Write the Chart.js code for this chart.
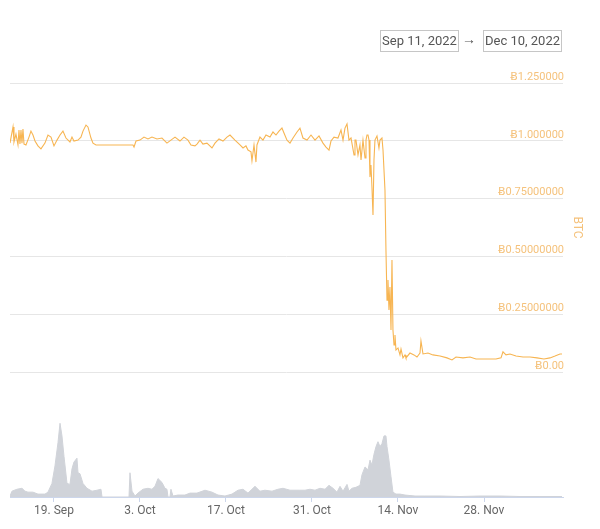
<!DOCTYPE html>
<html>
<head>
<meta charset="utf-8">
<script src="https://cdn.jsdelivr.net/npm/chart.js@4/dist/chart.umd.min.js"></script>
<style>
  body { margin: 0; background: #fff; font-family: Roboto, sans-serif; }
  #wrap { position: relative; width: 600px; height: 529px; }
  #price-chart { position: absolute; left: 0; top: 0; }
  #volume-chart { position: absolute; left: 0; top: 390px; }
  .range-box { position: absolute; top: 30px; height: 20px; width: 77px; border: 1px solid #c6c6c6;
    font-size: 13px; line-height: 20px; color: #555; text-align: center; white-space: nowrap; overflow: hidden; }
  #range-arrow { position: absolute; top: 31px; left: 462px; font-size: 14px; color: #555; }
</style>
</head>
<body>
<div id="wrap">
  <canvas id="price-chart" width="600" height="390"></canvas>
  <canvas id="volume-chart" width="600" height="139"></canvas>
  <div class="range-box" id="range-from" style="left:380px"></div>
  <div id="range-arrow">→</div>
  <div class="range-box" id="range-to" style="left:483px"></div>
</div>
<script>
// x values are days counted from Sep 11, 2022 00:00
const rangeLabels = ['Sep 11, 2022', 'Dec 10, 2022'];
const xMin = 0.84;
const xMax = 90.86;
const xTickDays = [8, 22, 36, 50, 64, 78];
const xTickLabels = ['19. Sep', '3. Oct', '17. Oct', '31. Oct', '14. Nov', '28. Nov'];

const yTickValues = [0, 0.25, 0.5, 0.75, 1, 1.25];
const yTickLabels = ['Ƀ0.00', 'Ƀ0.25000000', 'Ƀ0.50000000', 'Ƀ0.75000000', 'Ƀ1.000000', 'Ƀ1.250000'];

const priceDays = [
  0.84, 1.33, 1.49, 1.81, 2.14, 2.30, 2.46, 2.63, 2.79, 2.95, 3.12, 3.44, 3.93, 4.25, 4.58, 4.91,
  5.39, 5.88, 6.53, 7.02, 7.51, 8.00, 8.49, 8.98, 9.46, 9.95, 10.60, 10.93, 11.25, 11.91, 12.39,
  12.72, 13.21, 13.53, 14.02, 14.35, 14.84, 15.49, 20.86, 21.03, 21.35, 22.00, 22.65, 23.30, 23.95,
  24.77, 25.58, 26.39, 27.04, 27.70, 28.51, 29.16, 29.81, 30.30, 30.95,
  31.28, 31.77, 32.25, 32.90, 33.72, 34.21, 34.86, 35.51, 36.16, 36.65, 37.46, 38.28, 38.77, 39.25,
  39.58, 40.07, 40.23, 40.56, 40.88, 41.04, 41.53, 42.02, 42.51, 43.16, 43.65, 44.14, 44.63, 45.11,
  45.44, 45.93, 46.42, 46.91, 47.56, 48.04, 48.53, 49.19, 49.84, 50.49, 51.14, 51.79, 52.28, 52.77,
  53.09, 53.58, 54.23, 54.72, 55.05, 55.37, 55.70, 56.02, 56.35, 56.84, 57.00,
  57.16, 57.49, 57.81, 57.98, 58.30, 58.63, 58.79, 58.95, 59.12, 59.28, 59.44, 59.60, 59.76, 59.93,
  60.09, 60.25, 60.58, 60.90, 61.07, 61.39, 61.56, 61.88, 62.04, 62.21, 62.37, 62.53, 62.69, 62.86,
  63.02, 63.18, 63.35, 63.51, 63.67, 64.00, 64.32, 64.49, 64.81, 65.14,
  65.30, 65.95, 66.60, 67.09, 67.58, 67.74, 68.07, 68.88, 69.69, 70.84, 71.97, 72.79, 73.44, 74.58,
  75.72, 76.70, 77.83, 78.97, 79.95, 80.77, 81.09, 81.58, 82.23, 83.21, 84.35, 85.49, 86.63, 87.76,
  88.74, 89.56, 90.37, 90.70
];
const priceBtc = [
  0.990, 1.060, 0.995, 1.029, 0.982, 1.047, 0.986, 1.047, 0.990, 1.051, 0.986, 0.982, 1.016, 1.042, 1.025, 0.999,
  0.978, 0.965, 0.990, 1.025, 1.016, 0.978, 1.003, 1.025, 1.042, 1.012, 0.995, 1.016, 0.999, 1.003, 1.016,
  1.042, 1.068, 1.060, 1.012, 0.990, 0.982, 0.982, 0.982, 0.973, 0.999, 1.003, 1.016, 1.008, 1.016,
  1.008, 1.012, 0.990, 1.003, 1.016, 0.999, 1.016, 1.003, 0.982, 0.978,
  0.986, 1.003, 0.986, 0.990, 0.969, 0.990, 1.008, 0.999, 1.016, 1.025, 1.003, 0.982, 0.969, 0.978,
  0.960, 0.952, 0.913, 0.982, 0.908, 0.982, 1.016, 1.003, 1.025, 1.016, 1.038, 1.025, 1.042, 1.055,
  1.034, 1.003, 0.990, 1.012, 1.038, 1.055, 1.012, 1.003, 1.025, 1.003, 1.021, 0.990, 0.973, 0.960,
  0.999, 1.016, 1.012, 1.047, 1.003, 1.055, 1.073, 1.003, 1.012, 0.939, 1.003,
  1.003, 0.939, 0.982, 0.917, 1.003, 0.926, 1.003, 1.025, 1.025, 1.003, 0.843, 0.895, 0.800, 0.679,
  0.917, 1.003, 1.021, 0.969, 1.003, 1.012, 0.960, 0.787, 0.528, 0.311, 0.398, 0.268, 0.368, 0.182,
  0.484, 0.182, 0.117, 0.160, 0.095, 0.104, 0.074, 0.099, 0.061, 0.074,
  0.061, 0.082, 0.074, 0.065, 0.082, 0.134, 0.078, 0.082, 0.074, 0.069, 0.061, 0.052, 0.065, 0.061,
  0.065, 0.056, 0.056, 0.056, 0.056, 0.061, 0.087, 0.074, 0.078, 0.069, 0.065, 0.065, 0.061, 0.056,
  0.061, 0.069, 0.078, 0.078
];

const volumeDays = [
  0.84, 1.16, 1.97, 2.79, 3.28, 3.77, 4.58, 5.39, 6.53, 7.02, 7.67, 8.16, 8.65, 8.98, 9.30, 9.63,
  10.12, 10.60, 10.93, 11.25, 11.74, 11.91, 12.23, 12.72, 13.37, 14.19, 15.00, 15.65, 15.82,
  20.21, 20.37, 20.70, 21.19, 21.67, 22.49, 23.30, 23.95, 24.44, 24.93, 25.58, 26.07, 26.39, 26.56,
  26.88, 27.04, 27.37, 28.19, 29.32, 30.14, 31.28, 32.58, 33.72, 34.70, 35.84, 36.98, 37.95, 38.77,
  39.58, 40.72, 41.53, 42.34, 43.49, 44.46, 45.28, 46.42, 48.04, 48.86, 49.67, 50.49, 51.30, 52.12,
  52.77, 53.42, 54.07, 54.56, 55.05, 55.70, 56.02, 56.51, 57.16, 57.81, 58.14, 58.63, 59.12, 59.44,
  59.76, 60.09, 60.42, 60.74, 61.07, 61.39, 61.72, 62.04, 62.21, 62.53, 62.86, 63.18, 63.67, 64.32,
  65.14, 66.77, 68.39, 70.84, 74.09, 77.35, 80.60, 83.86, 87.11, 90.70
];
const volumeValues = [
  1, 6, 8, 9, 6, 5, 5, 3, 3, 5, 14, 32, 56, 76, 63, 42,
  14, 13, 29, 36, 40, 25, 24, 14, 9, 6, 7, 8, 0,
  0, 25, 6, 1, 4, 8, 9, 8, 11, 19, 15, 9, 8, 0,
  0, 8, 1, 2, 2, 4, 4, 7, 5, 2, 1, 3, 7, 8,
  4, 11, 6, 7, 6, 8, 9, 7, 7, 7, 8, 7, 9, 8,
  12, 9, 5, 11, 6, 13, 6, 9, 10, 12, 23, 31, 28, 38,
  33, 44, 52, 57, 52, 55, 63, 63, 52, 38, 21, 5, 3, 3,
  2, 1, 1, 1, 0.5, 1, 1, 0.5, 0.5, 0.5
];

const orange = '#f7b552';
const orangeText = '#f5c27c';

document.getElementById('range-from').textContent = rangeLabels[0];
document.getElementById('range-to').textContent = rangeLabels[1];

new Chart(document.getElementById('price-chart'), {
  type: 'line',
  data: {
    datasets: [{
      data: priceDays.map((d, i) => ({ x: d, y: priceBtc[i] })),
      borderColor: orange,
      borderWidth: 1.1,
      pointRadius: 0,
      tension: 0,
    }],
  },
  options: {
    responsive: false,
    animation: false,
    layout: { padding: { left: 10, right: 12, top: 83, bottom: 18 } },
    scales: {
      x: { type: 'linear', min: xMin, max: xMax, display: false },
      y: {
        position: 'right',
        min: 0,
        max: 1.25,
        afterBuildTicks: (s) => { s.ticks = yTickValues.map((v) => ({ value: v })); },
        afterFit: (s) => { s.width = 25; },
        ticks: {
          mirror: true,
          padding: 1,
          labelOffset: -6,
          color: orangeText,
          font: { family: 'Roboto, "DejaVu Sans"', size: 11 },
          callback: (v, i) => yTickLabels[i],
        },
        grid: { color: '#e6e6e6', drawTicks: false },
        border: { display: false },
        title: {
          display: true,
          text: 'BTC',
          color: orangeText,
          font: { family: 'Roboto', size: 12 },
          padding: { top: 4, bottom: 4 },
        },
      },
    },
    plugins: { legend: { display: false }, tooltip: { enabled: false } },
  },
});

new Chart(document.getElementById('volume-chart'), {
  type: 'line',
  data: {
    datasets: [{
      data: volumeDays.map((d, i) => ({ x: d, y: volumeValues[i] })),
      borderColor: '#d0d3d9',
      borderWidth: 1,
      backgroundColor: '#d0d3d9',
      fill: 'origin',
      pointRadius: 0,
      tension: 0,
    }],
  },
  options: {
    responsive: false,
    animation: false,
    layout: { padding: { left: 10, right: 37, top: 10, bottom: 0 } },
    scales: {
      x: {
        type: 'linear',
        min: xMin,
        max: xMax,
        afterBuildTicks: (s) => { s.ticks = xTickDays.map((v) => ({ value: v })); },
        afterFit: (s) => { s.height = 32; },
        ticks: {
          color: '#666',
          padding: 2,
          maxRotation: 0,
          autoSkip: false,
          font: { family: 'Roboto', size: 12 },
          callback: (v, i) => xTickLabels[i],
        },
        grid: { drawOnChartArea: false, drawTicks: true, tickLength: 5, color: '#ccd6eb' },
        border: { color: '#ccd6eb', width: 1 },
      },
      y: { display: false, min: 0, max: 100 },
    },
    plugins: { legend: { display: false }, tooltip: { enabled: false } },
  },
});
</script>
</body>
</html>
